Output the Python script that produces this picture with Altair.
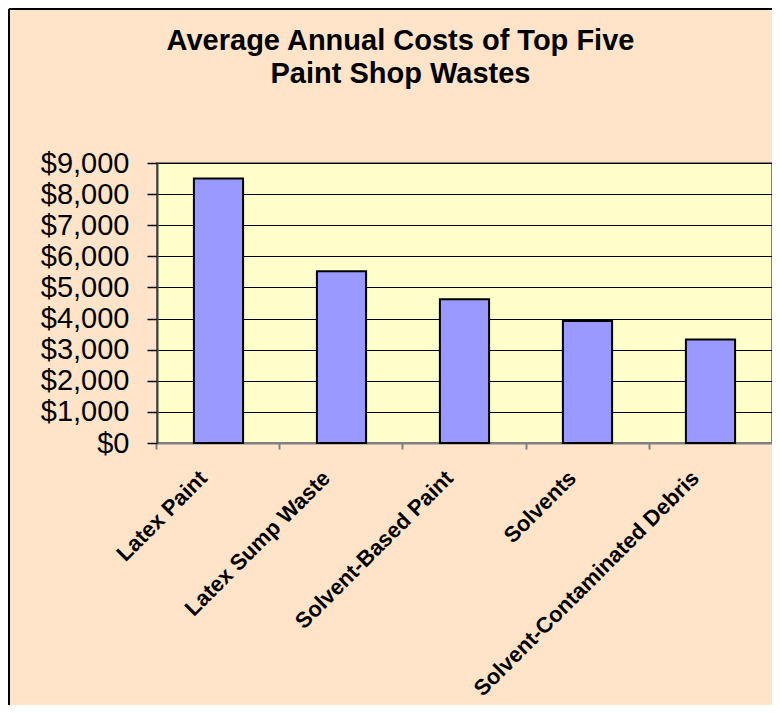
import altair as alt
import pandas as pd

categories = ["Latex Paint", "Latex Sump Waste", "Solvent-Based Paint",
              "Solvents", "Solvent-Contaminated Debris"]
costs = [8500, 5520, 4620, 3920, 3330]
y_ticks = [0, 1000, 2000, 3000, 4000, 5000, 6000, 7000, 8000, 9000]
title_lines = ["Average Annual Costs of Top Five", "Paint Shop Wastes"]

df = pd.DataFrame({"category": categories, "cost": costs})
frame_df = pd.DataFrame({"k": [0]})

FONT = "Liberation Sans"
PLOT_W, PLOT_H = 615, 280

bars = alt.Chart(df).mark_bar(
    fill="#9999FF", stroke="#000000", strokeWidth=2
).encode(
    x=alt.X(
        "category:N", sort=categories, title=None,
        scale=alt.Scale(paddingInner=0.6, paddingOuter=0.3),
        axis=alt.Axis(
            labelAngle=-45, labelAlign="right", labelBaseline="top",
            labelFont=FONT, labelFontWeight="bold", labelFontSize=22,
            labelColor="#000000", labelPadding=18, labelOffset=-22,
            labelLimit=0, bandPosition=-0.75,
            tickColor="#808080", tickSize=6, tickWidth=2,
            domainColor="#808080", domainWidth=2, grid=False,
        ),
    ),
    y=alt.Y(
        "cost:Q", title=None,
        scale=alt.Scale(domain=[0, 9000], nice=False),
        axis=alt.Axis(
            values=y_ticks, format="$,.0f",
            labelFont=FONT, labelFontSize=29, labelColor="#000000",
            labelPadding=18, tickColor="#000000", tickSize=10, tickWidth=1.5,
            domainColor="#404040", domainWidth=2,
            gridColor="#000000", gridWidth=1.2,
        ),
    ),
)

frame_left = alt.Chart(frame_df).mark_rule(color="#000000", strokeWidth=2).encode(
    x=alt.value(-148), y=alt.value(-154), y2=alt.value(PLOT_H + 262)
)
frame_top = alt.Chart(frame_df).mark_rule(color="#000000", strokeWidth=2).encode(
    x=alt.value(-148), x2=alt.value(PLOT_W), y=alt.value(-154)
)

chart = alt.layer(bars, frame_left, frame_top).properties(
    width=PLOT_W,
    height=PLOT_H,
    autosize=alt.AutoSizeParams(type="none"),
    padding={"left": 149, "top": 155, "right": 0, "bottom": 262},
    title=alt.Title(
        title_lines, font=FONT, fontSize=29, fontWeight="bold",
        color="#000000", anchor="middle", frame="group", dx=-64,
        offset=-81, lineHeight=33,
    ),
).configure(
    background="#FFE4CA",
).configure_view(
    fill="#FFFFCC", stroke="#808080", strokeWidth=2,
)

chart.save("out.html", embed_options={"renderer": "svg", "actions": False})
